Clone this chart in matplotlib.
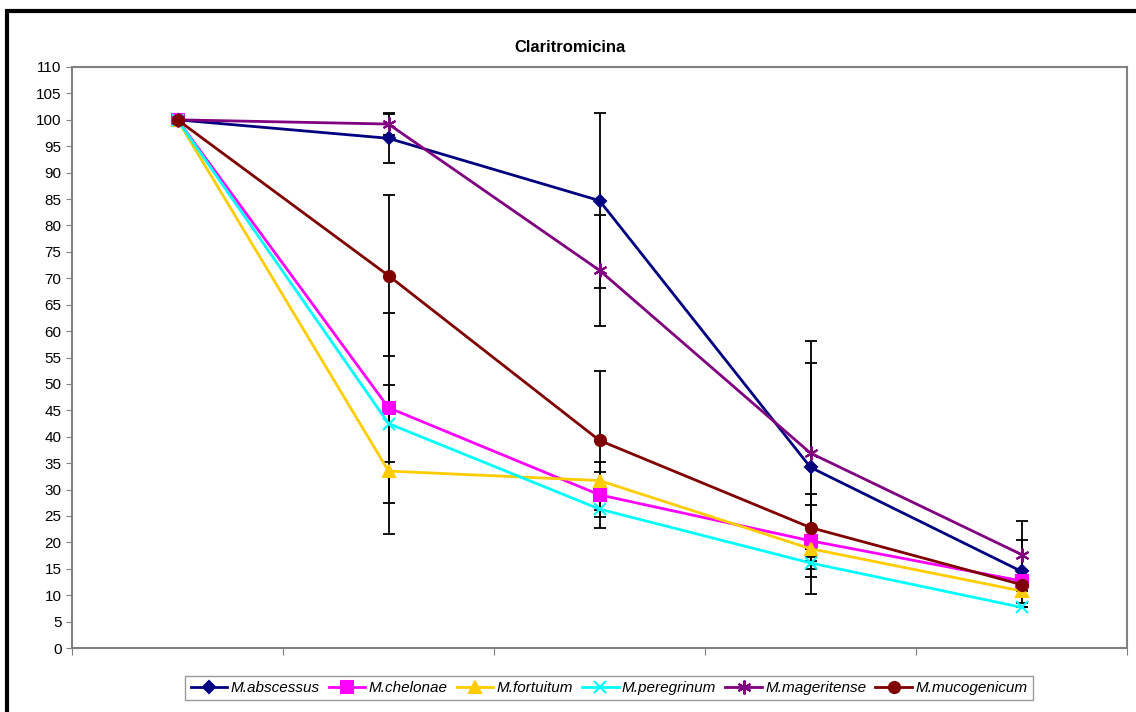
import matplotlib.pyplot as plt
import numpy as np
from matplotlib.patches import Rectangle

plt.rcParams['font.family'] = ['Liberation Sans', 'DejaVu Sans']

# five time points, no category labels on the x axis
x = np.arange(5)

series = ["M.abscessus", "M.chelonae", "M.fortuitum", "M.peregrinum",
          "M.mageritense", "M.mucogenicum"]

abscessus = [100, 96.5, 84.7, 34.2, 14.5]
chelonae = [100, 45.5, 29.0, 20.3, 12.7]
fortuitum = [100, 33.5, 31.7, 18.8, 10.8]
peregrinum = [100, 42.5, 26.3, 16.1, 7.7]
mageritense = [100, 99.2, 71.5, 36.9, 17.7]
mucogenicum = [100, 70.5, 39.3, 22.8, 12.0]

# standard deviations (error bars)
err_abscessus = [0, 4.6, 16.6, 24.0, 6.0]
err_chelonae = [0, 18.0, 6.3, 6.8, 0]
err_fortuitum = [0, 12.0, 1.7, 0, 0]
err_peregrinum = [0, 7.3, 1.5, 1.1, 0]
err_mageritense = [0, 2.0, 10.5, 17.0, 6.3]
err_mucogenicum = [0, 15.2, 13.2, 6.4, 0]

values = [abscessus, chelonae, fortuitum, peregrinum, mageritense, mucogenicum]
errors = [err_abscessus, err_chelonae, err_fortuitum, err_peregrinum,
          err_mageritense, err_mucogenicum]
colors = ["#000080", "#FF00FF", "#FFCC00", "#00FFFF", "#800080", "#800000"]
markers = ["D", "s", "^", "x", (6, 2, 0), "o"]
msizes = [6, 8, 8, 8, 10, 8]

fig = plt.figure(figsize=(11.36, 7.12), dpi=100)
ax = fig.add_axes([72/1136, 64/712, 1055/1136, 581/712])

for vals, err, col, mk, ms, name in zip(values, errors, colors, markers, msizes, series):
    ax.errorbar(x, vals, yerr=err, fmt="none", ecolor="black", elinewidth=1.3,
                capsize=4, capthick=1.3, zorder=2)
    ax.plot(x, vals, color=col, marker=mk, markersize=ms, linewidth=2,
            markeredgecolor=col, markeredgewidth=1.5, label=name, zorder=3)

ax.set_xlim(-0.5, 4.5)
ax.set_ylim(0, 110)
ax.set_yticks(np.arange(0, 111, 5))
ax.set_xticks(np.arange(-0.5, 4.6, 1))
ax.set_xticklabels([])
ax.tick_params(axis="y", direction="out", length=4, color="#808080", labelsize=11)
ax.tick_params(axis="x", direction="out", length=5, color="#808080")
for s in ax.spines.values():
    s.set_color("#808080")
    s.set_linewidth(1.5)

fig.text(570/1136, 1 - 48/712, "Claritromicina", ha="center", va="center",
         fontsize=12, fontweight="bold")

leg = fig.legend(loc="center", bbox_to_anchor=(609/1136, 1 - 688/712), ncol=6,
                 frameon=True, fancybox=False, prop={"style": "italic", "size": 11},
                 handlelength=2.4, handletextpad=0.2, columnspacing=0.6,
                 borderpad=0.35, edgecolor="#808080")
leg.get_frame().set_linewidth(1)

# outer chart border (cut off at right and bottom)
fig.patches.append(Rectangle((7/1136, -0.1), 1.2, 1.1 - 11/712, transform=fig.transFigure,
                             fill=False, edgecolor="black", linewidth=3))

fig.savefig("out.png", dpi=100)
